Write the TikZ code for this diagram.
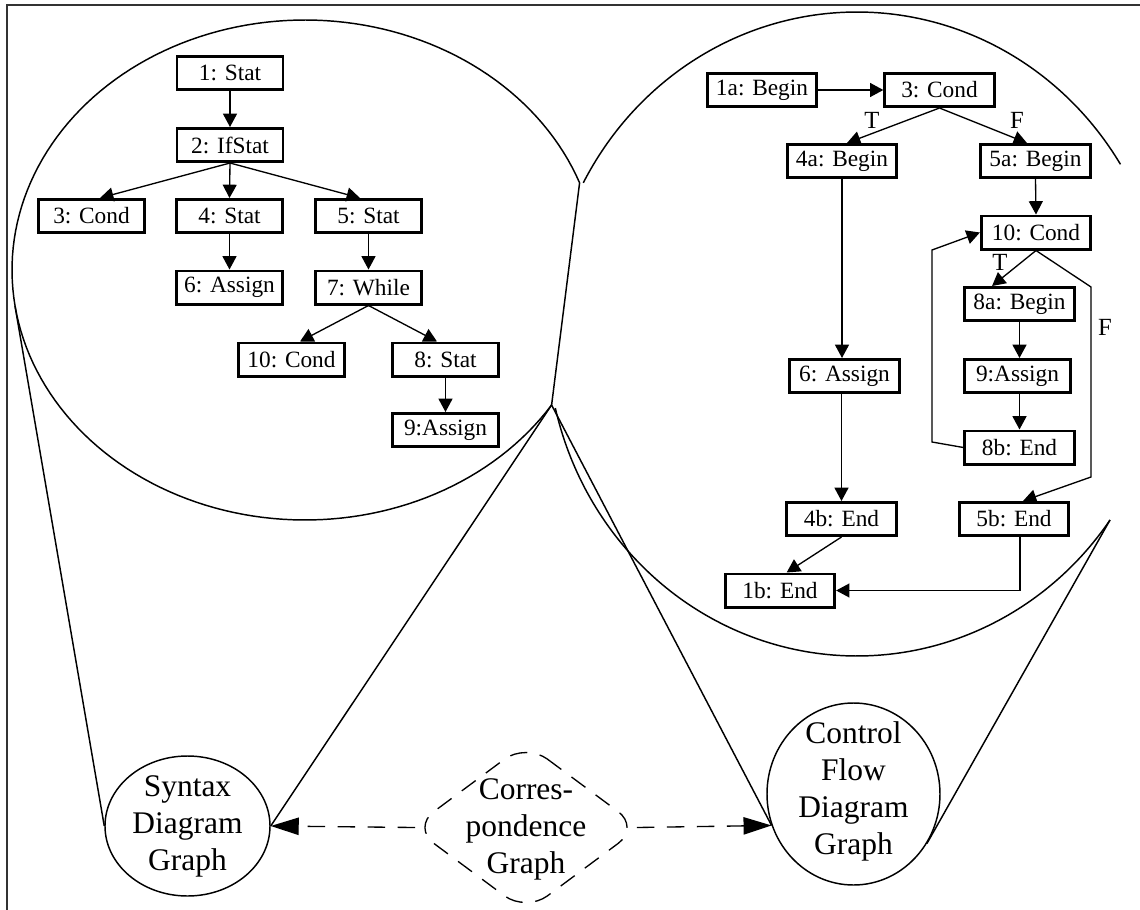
\documentclass[tikz,border=0pt]{standalone}
\usepackage{fontspec}
\setmainfont{Liberation Serif}
\usetikzlibrary{arrows.meta,calc,shapes.geometric}

\begin{document}
\begin{tikzpicture}[x=0.75pt,y=-0.75pt,
  box/.style={draw, line width=2.2pt, minimum width=79.5pt, minimum height=24.8pt,
    inner sep=0pt, font=\fontsize{17.5}{20}\selectfont},
  rbox/.style={box, minimum width=82pt},
  edge/.style={line width=1pt, -{Triangle[length=10pt,width=10.5pt]}},
  lbl/.style={font=\fontsize{18.5}{20}\selectfont, inner sep=0pt},
  outline/.style={line width=1.1pt},
  big/.style={align=center, font=\fontsize{23.6}{27.75}\selectfont, inner sep=0pt},
  dashline/.style={line width=1pt, dash pattern=on 13pt off 9.5pt},
  link/.style={dashline, -{Triangle[length=21pt,width=13pt]}}
]
\useasboundingbox (0,0) rectangle (1140,910);

% frame
\draw[line width=1.5pt, black!80] (7,910) -- (7,5) -- (1140,5);

% ---------- syntax tree ----------
\node[box] (s1)  at (230,73)      {1: Stat};
\node[box] (s2)  at (230,145)     {2: IfStat};
\node[box] (s3)  at (91.5,216)    {3: Cond};
\node[box] (s4)  at (229.5,216)   {4: Stat};
\node[box] (s5)  at (368.5,216)   {5: Stat};
\node[box] (s6)  at (229.5,287.5) {6: Assign};
\node[box] (s7)  at (368.5,287.5) {7: While};
\node[box] (s10) at (291.5,359.5) {10: Cond};
\node[box] (s8)  at (445.5,359.5) {8: Stat};
\node[box] (s9)  at (445.5,430)   {9:Assign};

\draw[edge] (s1.south) -- (s2.north);
\draw[edge] (s2.south) -- ([xshift=6.4pt]s3.north);
\draw[edge] (s2.south) -- (s4.north);
\draw[edge] (s2.south) -- ([xshift=-6.4pt]s5.north);
\draw[edge] (s4.south) -- (s6.north);
\draw[edge] (s5.south) -- (s7.north);
\draw[edge] (s7.south) -- ([xshift=6.4pt]s10.north);
\draw[edge] (s7.south) -- ([xshift=-6.4pt]s8.north);
\draw[edge] (s8.south) -- (s9.north);

% ---------- control flow graph ----------
\node[rbox] (c1a) at (762,90)      {1a: Begin};
\node[rbox] (c3)  at (939.5,90)    {3: Cond};
\node[rbox] (c4a) at (842,161)     {4a: Begin};
\node[rbox] (c5a) at (1035.5,161)  {5a: Begin};
\node[rbox] (c10) at (1036,232.5)  {10: Cond};
\node[rbox] (c8a) at (1019.5,304)  {8a: Begin};
\node[box]  (c9)  at (1017.5,376)  {9:Assign};
\node[rbox] (c8b) at (1019.5,447.5){8b: End};
\node[rbox] (c6)  at (844.5,376)   {6: Assign};
\node[rbox] (c4b) at (841.5,519)   {4b: End};
\node[rbox] (c5b) at (1014,519)    {5b: End};
\node[rbox] (c1b) at (780,590.5)   {1b: End};

\coordinate (fa) at (1091,287);
\coordinate (fb) at (1091,477);
\coordinate (la) at (932,442);
\coordinate (lb) at (932,250);
\coordinate (c5out) at ([xshift=4.5pt]c5b.south);

\draw[edge] (c1a.east) -- (c3.west);
\draw[edge] (c3.south) -- ([xshift=3.75pt]c4a.north);
\draw[edge] (c3.south) -- ([xshift=-6.4pt]c5a.north);
\draw[edge] (c4a.south) -- (c4a.south |- c6.north);
\draw[edge] (c5a.south) -- (c10.north);
\draw[edge] (c10.south) -- ([xshift=-20.6pt]c8a.north);
\draw[edge] (c10.south) -- (fa) -- (fb) -- ([xshift=6.75pt]c5b.north);
\draw[edge] (c8a.south) -- (c8a.south |- c9.north);
\draw[edge] (c9.south -| c8b.north) -- (c8b.north);
\draw[edge] (c8b.west) -- (la) -- (lb) -- (c10.west);
\draw[edge] (c4b.north |- c6.south) -- (c4b.north);
\draw[edge] (c4b.south) -- ([xshift=5pt]c1b.north);
\draw[edge] (c5out) -- (c5out |- c1b.east) -- (c1b.east);

\node[lbl] (t1) at (872,120)  {T};
\node[lbl] (f1) at (1017,120) {F};
\node[lbl] (t2) at (1000,262) {T};
\node[lbl] (f2) at (1105,327) {F};

% ---------- magnified regions ----------
\draw[outline] plot[domain=20.4:327.3, samples=160, variable=\t]
  ({305+293*cos(\t)}, {270-250*sin(\t)});
\draw[outline] plot[domain=31.8:152, samples=130, variable=\t]
  ({857+310*cos(\t)}, {334-322*sin(\t)});
\draw[outline] plot[domain=193.3:324.7, samples=130, variable=\t]
  ({857+310*cos(\t)}, {334-322*sin(\t)});

\coordinate (jt) at (579.6,182.8);
\coordinate (jb) at (551.6,405);
\coordinate (lt) at (15,306);
\coordinate (rb) at (1110,520);
\draw[outline] (jt) -- (jb);

% ---------- overview graphs ----------
\node[draw, ellipse, outline, minimum width=123.75pt, minimum height=105pt, inner sep=0pt]
  (syn) at (187.5,826) {};
\node[big] (syntext) at (187.5,826) {Syntax\\Diagram\\Graph};

\node[draw, ellipse, outline, minimum width=129.75pt, minimum height=136.5pt, inner sep=0pt]
  (cf) at (853.5,794) {};
\node[big] (cftext) at (853.5,791) {Control\\Flow\\Diagram\\Graph};
\coordinate (cfin) at (cf.201.6);

\node[minimum width=170pt, minimum height=126pt, inner sep=0pt] (corr) at (526,827.5) {};
\draw[dashline, rounded corners=20pt]
  (corr.north) -- (corr.east) -- (corr.south) -- (corr.west) -- cycle;
\node[big] (corrtext) at (526,829) {Corres-\\pondence\\Graph};

\draw[link] ([xshift=2pt]corr.west) -- (syn.east);
\draw[link] ([xshift=-2pt]corr.east) -- (cfin);

% cone lines
\draw[outline] (syn.west) -- (lt);
\draw[outline] (syn.east) -- (jb);
\draw[outline] (cfin) -- (jb);
\draw[outline] (cf.-34.8) -- (rb);
\end{tikzpicture}
\end{document}
